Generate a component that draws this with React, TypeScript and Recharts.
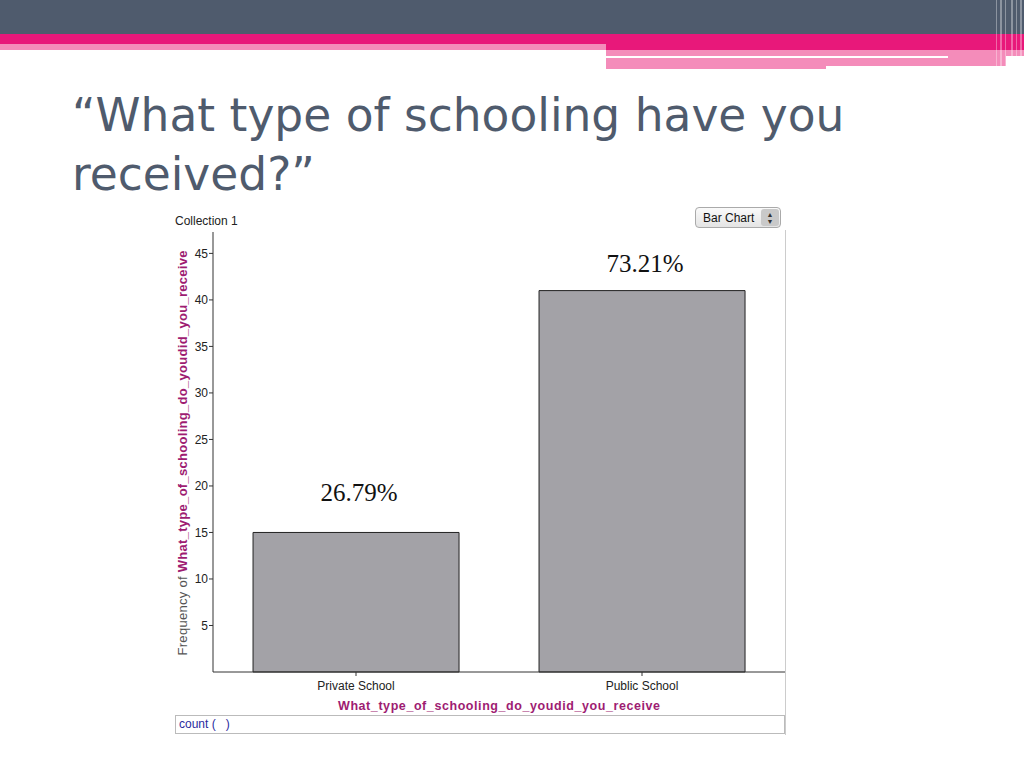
import React from 'react'
import { BarChart, Bar, XAxis, YAxis, LabelList } from 'recharts'

const CATEGORIES = ['Private School', 'Public School']
const COUNTS = [15, 41]
const PERCENT_LABELS = ['26.79%', '73.21%']
const Y_TICKS = [5, 10, 15, 20, 25, 30, 35, 40, 45]

const AXIS_VAR = 'What_type_of_schooling_do_youdid_you_receive'
const SLATE = '#4f5b6d'
const PINK = '#e8187a'
const LIGHT_PINK = '#f48cba'
const MAGENTA = '#9e1c72'
const SANS = '"Liberation Sans", Arial, sans-serif'

// label lift above each bar top (px), the slide had them hand-placed
const LABEL_LIFT = [31, 19]

const data = CATEGORIES.map((name, i) => ({ name, count: COUNTS[i], pct: PERCENT_LABELS[i] }))

function YLabel(props: any) {
  const { viewBox } = props
  const cx = 10
  const cy = viewBox.y + viewBox.height / 2 + 1
  return (
    <text x={cx} y={cy} transform={`rotate(-90 ${cx} ${cy})`} textAnchor="middle"
      dominantBaseline="central" fontFamily={SANS} fontSize={13} textLength={405} lengthAdjust="spacing">
      <tspan fill="#555">Frequency of </tspan>
      <tspan fill={MAGENTA} fontWeight="bold">{AXIS_VAR}</tspan>
    </text>
  )
}

function XLabel(props: any) {
  const { viewBox } = props
  return (
    <text x={viewBox.x + viewBox.width / 2} y={505} textAnchor="middle" fill={MAGENTA}
      fontFamily={SANS} fontSize={12.5} fontWeight="bold" textLength={322} lengthAdjust="spacing">
      {AXIS_VAR}
    </text>
  )
}

function PctLabel(props: any) {
  const { x, y, width, index, value } = props
  return (
    <text x={x + width / 2 + 3} y={y - LABEL_LIFT[index]} textAnchor="middle" fill="#111"
      fontFamily='"Liberation Serif", "Times New Roman", serif' fontSize={25}>
      {value}
    </text>
  )
}

export default function App() {
  return (
    <div style={{ position: 'absolute', left: 0, top: 0, width: 1024, height: 768, background: '#fff', overflow: 'hidden' }}>
      {/* header bands */}
      <div style={{ position: 'absolute', left: 0, top: 0, width: 1024, height: 34, background: SLATE }} />
      <div style={{ position: 'absolute', left: 0, top: 34, width: 1024, height: 10, background: PINK }} />
      <div style={{ position: 'absolute', left: 0, top: 44, width: 606, height: 6, background: LIGHT_PINK }} />
      <div style={{ position: 'absolute', left: 606, top: 44, width: 418, height: 6, background: PINK }} />
      <div style={{ position: 'absolute', left: 606, top: 50, width: 418, height: 6, background: LIGHT_PINK }} />
      <div style={{ position: 'absolute', left: 606, top: 58, width: 220, height: 11, background: LIGHT_PINK }} />
      <div style={{ position: 'absolute', left: 826, top: 58, width: 180, height: 8, background: LIGHT_PINK }} />
      <div style={{ position: 'absolute', left: 948, top: 56, width: 58, height: 2, background: LIGHT_PINK }} />
      {[996, 1000, 1005, 1011, 1016, 1020].map((x, i) => (
        <div key={x} style={{ position: 'absolute', left: x, top: 0, width: i % 2 ? 2 : 1, height: 68,
          background: 'rgba(255,255,255,0.35)' }} />
      ))}

      {/* title */}
      <div style={{ position: 'absolute', left: 72, top: 86, fontFamily: '"DejaVu Sans", sans-serif',
        fontSize: 45.5, lineHeight: '59px', color: SLATE, whiteSpace: 'pre' }}>
        {'\u201CWhat type of schooling have you\nreceived?\u201D'}
      </div>

      {/* panel */}
      <div style={{ position: 'absolute', left: 785, top: 230, width: 1, height: 505, background: '#ccc' }} />
      <div style={{ position: 'absolute', left: 175, top: 214, fontFamily: SANS, fontSize: 12, color: '#222' }}>
        Collection 1
      </div>
      <div style={{ position: 'absolute', left: 695, top: 207, width: 86, height: 21, boxSizing: 'border-box',
        border: '1px solid #aaa', borderRadius: 4, background: 'linear-gradient(#fafafa, #e4e4e4)',
        fontFamily: SANS, fontSize: 12, color: '#111', display: 'flex', alignItems: 'center' }}>
        <span style={{ paddingLeft: 7 }}>Bar Chart</span>
        <span style={{ position: 'absolute', right: 1, top: 1, width: 18, height: 17, background: '#c9c9c9',
          borderRadius: 3, fontSize: 7, lineHeight: '7px', textAlign: 'center', display: 'flex',
          flexDirection: 'column', justifyContent: 'center', color: '#333' }}>
          <span>▲</span><span>▼</span>
        </span>
      </div>

      <div style={{ position: 'absolute', left: 172, top: 205 }}>
        <BarChart width={614} height={510} data={data} margin={{ top: 27, right: 1, left: 0, bottom: 0 }}
          barCategoryGap="14%">
          <XAxis dataKey="name" height={43} axisLine={{ stroke: '#333' }} tickLine={{ stroke: '#333' }}
            tickSize={4} tickMargin={5} tick={{ fontFamily: SANS, fontSize: 12, fill: '#222' }}
            label={<XLabel />} />
          <YAxis yAxisId="l" width={41} domain={[0, 47.3]} ticks={Y_TICKS} axisLine={{ stroke: '#333' }}
            tickLine={{ stroke: '#333' }} tickSize={4} tickMargin={1}
            tick={{ fontFamily: SANS, fontSize: 12, fill: '#222' }} label={<YLabel />} />
          <YAxis yAxisId="r" orientation="right" width={0} tick={false} tickLine={false}
            axisLine={{ stroke: '#333' }} />
          <Bar yAxisId="l" dataKey="count" fill="#a3a2a7" stroke="#222" strokeWidth={1} isAnimationActive={false}>
            <LabelList dataKey="pct" content={<PctLabel />} />
          </Bar>
        </BarChart>
      </div>

      {/* count row */}
      <div style={{ position: 'absolute', left: 175, top: 715, width: 610, height: 19, boxSizing: 'border-box',
        border: '1px solid #bbb', fontFamily: SANS, fontSize: 12, color: '#2a2a9e', lineHeight: '17px',
        paddingLeft: 3 }}>
        count ( &nbsp; )
      </div>
    </div>
  )
}
